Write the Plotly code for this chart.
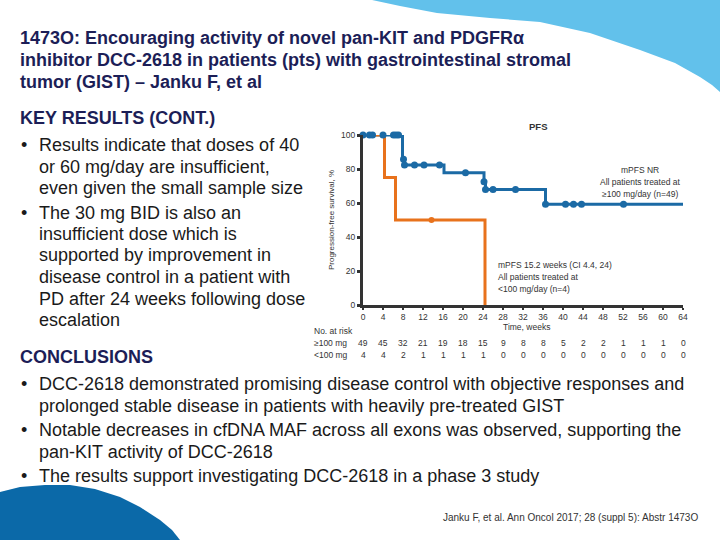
import plotly.graph_objects as go

W, H = 720, 540

# ---- data ----
hi_step_x = [0, 7.9, 7.9, 8.2, 8.2, 16.2, 16.2, 24.2, 24.2, 24.5, 24.5, 36.5, 36.5, 64.2]
hi_step_y = [100, 100, 85.7, 85.7, 82.4, 82.4, 77.8, 77.8, 72.5, 72.5, 68.0, 68.0, 59.2, 59.2]
hi_cens_x = [0, 1.3, 1.9, 4.0, 6.1, 6.6, 7.1, 8.1, 8.3, 10.3, 12.2, 15.3, 20.5, 24.2, 24.5, 26.0, 30.5, 36.5, 40.5, 42.1, 43.7, 52.1, 64.2]
hi_cens_y = [100, 100, 100, 100, 100, 100, 100, 85.7, 82.4, 82.4, 82.4, 82.4, 77.8, 72.5, 68.0, 68.0, 68.0, 59.2, 59.2, 59.2, 59.2, 59.2, 59.2]

lo_step_x = [0, 4.3, 4.3, 6.5, 6.5, 24.4, 24.4]
lo_step_y = [100, 100, 75, 75, 50, 50, 0]
lo_cens_x = [13.7]
lo_cens_y = [50]

risk_times = [0, 4, 8, 12, 16, 20, 24, 28, 32, 36, 40, 44, 48, 52, 56, 60, 64]
risk_hi = [49, 45, 32, 21, 19, 18, 15, 9, 8, 8, 5, 2, 2, 1, 1, 1, 0]
risk_lo = [4, 4, 2, 1, 1, 1, 1, 0, 0, 0, 0, 0, 0, 0, 0, 0, 0]

title_lines = [
    "1473O: Encouraging activity of novel pan-KIT and PDGFRα",
    "inhibitor DCC-2618 in patients (pts) with gastrointestinal stromal",
    "tumor (GIST) – Janku F, et al",
]
key_bullets = [
    ["Results indicate that doses of 40", "or 60 mg/day are insufficient,", "even given the small sample size"],
    ["The 30 mg BID is also an", "insufficient dose which is", "supported by improvement in",
     "disease control in a patient with", "PD after 24 weeks following dose", "escalation"],
]
concl_bullets = [
    ["DCC-2618 demonstrated promising disease control with objective responses and",
     "prolonged stable disease in patients with heavily pre-treated GIST"],
    ["Notable decreases in cfDNA MAF across all exons was observed, supporting the",
     "pan-KIT activity of DCC-2618"],
    ["The results support investigating DCC-2618 in a phase 3 study"],
]

BLUE = "#1b6aa5"
ORANGE = "#e8721c"
NAVY = "#1c1e57"
TXT = "#1a1a1a"
AX = "#333333"
FAM = "Liberation Sans, Arial, sans-serif"

def px(x):
    return x / W

def py(y):
    return 1 - y / H

fig = go.Figure()

fig.add_trace(go.Scatter(x=hi_step_x, y=hi_step_y, mode="lines",
                         line=dict(color=BLUE, width=3), cliponaxis=False, hoverinfo="skip"))
fig.add_trace(go.Scatter(x=lo_step_x, y=lo_step_y, mode="lines",
                         line=dict(color=ORANGE, width=3), cliponaxis=False, hoverinfo="skip"))
fig.add_trace(go.Scatter(x=hi_cens_x, y=hi_cens_y, mode="markers",
                         marker=dict(color=BLUE, size=7), cliponaxis=False))
fig.add_trace(go.Scatter(x=lo_cens_x, y=lo_cens_y, mode="markers",
                         marker=dict(color=ORANGE, size=6), cliponaxis=False))

# decorative shapes
def path(points, close=True):
    s = "M " + " L ".join(f"{px(x):.4f},{py(y):.4f}" for x, y in points)
    return s + (" Z" if close else "")

wave = [(372, 0), (400, 6), (437, 13), (490, 18), (540, 22), (590, 33), (640, 50), (675, 63), (700, 77), (712, 85), (720, 92), (720, 0)]
dome = [(0, 540), (0, 492), (20, 487), (45, 485), (70, 485), (95, 489), (120, 497), (140, 507), (160, 520), (172, 530), (180, 540)]
fig.add_shape(type="path", xref="paper", yref="paper", path=path(wave),
              fillcolor="#62c1eb", line=dict(width=0), layer="below")
fig.add_shape(type="path", xref="paper", yref="paper", path=path(dome),
              fillcolor="#0b69a8", line=dict(width=0), layer="below")

ann = []
def text(x, y, s, size, color=TXT, bold=False, anchor="left"):
    if bold:
        s = "<b>" + s + "</b>"
    ann.append(dict(x=px(x), y=py(y), xref="paper", yref="paper", text=s,
                    showarrow=False, xanchor=anchor, yanchor="middle",
                    font=dict(size=size, color=color, family=FAM)))

BIG = 18
for i, line in enumerate(title_lines):
    text(18, 38 + 22 * i, line, BIG, NAVY, bold=True)

text(18, 118, "KEY RESULTS (CONT.)", BIG, NAVY, bold=True)
y = 145
for b in key_bullets:
    text(19, y, "•", BIG)
    for line in b:
        text(37, y, line, BIG)
        y += 21.5
    y += 3

text(18, 357, "CONCLUSIONS", BIG, NAVY, bold=True)
y = 384
for b in concl_bullets:
    text(19, y, "•", BIG)
    for line in b:
        text(37, y, line, BIG)
        y += 21.5
    y += 3

text(700, 517, "Janku F, et al. Ann Oncol 2017; 28 (suppl 5): Abstr 1473O", 10, "#333333", anchor="right")

# chart labels
text(538, 127, "PFS", 9.5, AX, bold=True, anchor="center")
text(526, 327, "Time, weeks", 8.5, AX, anchor="center")
text(640, 170, "mPFS NR", 8.5, AX, anchor="center")
text(640, 182, "All patients treated at", 8.5, AX, anchor="center")
text(640, 194, "≥100 mg/day (n=49)", 8.5, AX, anchor="center")
text(496, 265, "mPFS 15.2 weeks (CI 4.4, 24)", 8.5, AX)
text(496, 277, "All patients treated at", 8.5, AX)
text(496, 289, "<100 mg/day (n=4)", 8.5, AX)

# risk table
text(312, 331, "No. at risk", 8.5, AX)
text(312, 343, "≥100 mg", 8.5, AX)
text(312, 355, "<100 mg", 8.5, AX)
for t, a, b in zip(risk_times, risk_hi, risk_lo):
    ann.append(dict(x=t, y=py(343), xref="x", yref="paper", text=str(a), showarrow=False,
                    xanchor="center", yanchor="middle", font=dict(size=8.5, color=AX, family=FAM)))
    ann.append(dict(x=t, y=py(355), xref="x", yref="paper", text=str(b), showarrow=False,
                    xanchor="center", yanchor="middle", font=dict(size=8.5, color=AX, family=FAM)))

fig.update_layout(
    width=W, height=H, margin=dict(l=0, r=0, t=0, b=0, autoexpand=False),
    paper_bgcolor="white", plot_bgcolor="white", showlegend=False,
    annotations=ann,
    font=dict(family=FAM, color=AX),
    xaxis=dict(domain=[px(363), px(683)], range=[0, 64], tickvals=risk_times, automargin=False,
               showgrid=False, zeroline=False, showline=True, linecolor=AX, linewidth=3,
               ticks="outside", ticklen=2, tickwidth=2, tickcolor=AX,
               tickfont=dict(size=8.5, color=AX)),
    yaxis=dict(domain=[py(305), py(135)], range=[0, 100], tickvals=[0, 20, 40, 60, 80, 100], automargin=False,
               showgrid=False, zeroline=False, showline=True, linecolor=AX, linewidth=3,
               ticks="outside", ticklen=3, tickwidth=3, tickcolor=AX,
               tickfont=dict(size=8.5, color=AX),
               title=dict(text="Progression-free survival, %", font=dict(size=8, color=AX), standoff=6)),
)

fig.write_html("out.html", config={"displayModeBar": False},
               post_script="document.body.style.margin='0';document.body.style.overflow='hidden';")
